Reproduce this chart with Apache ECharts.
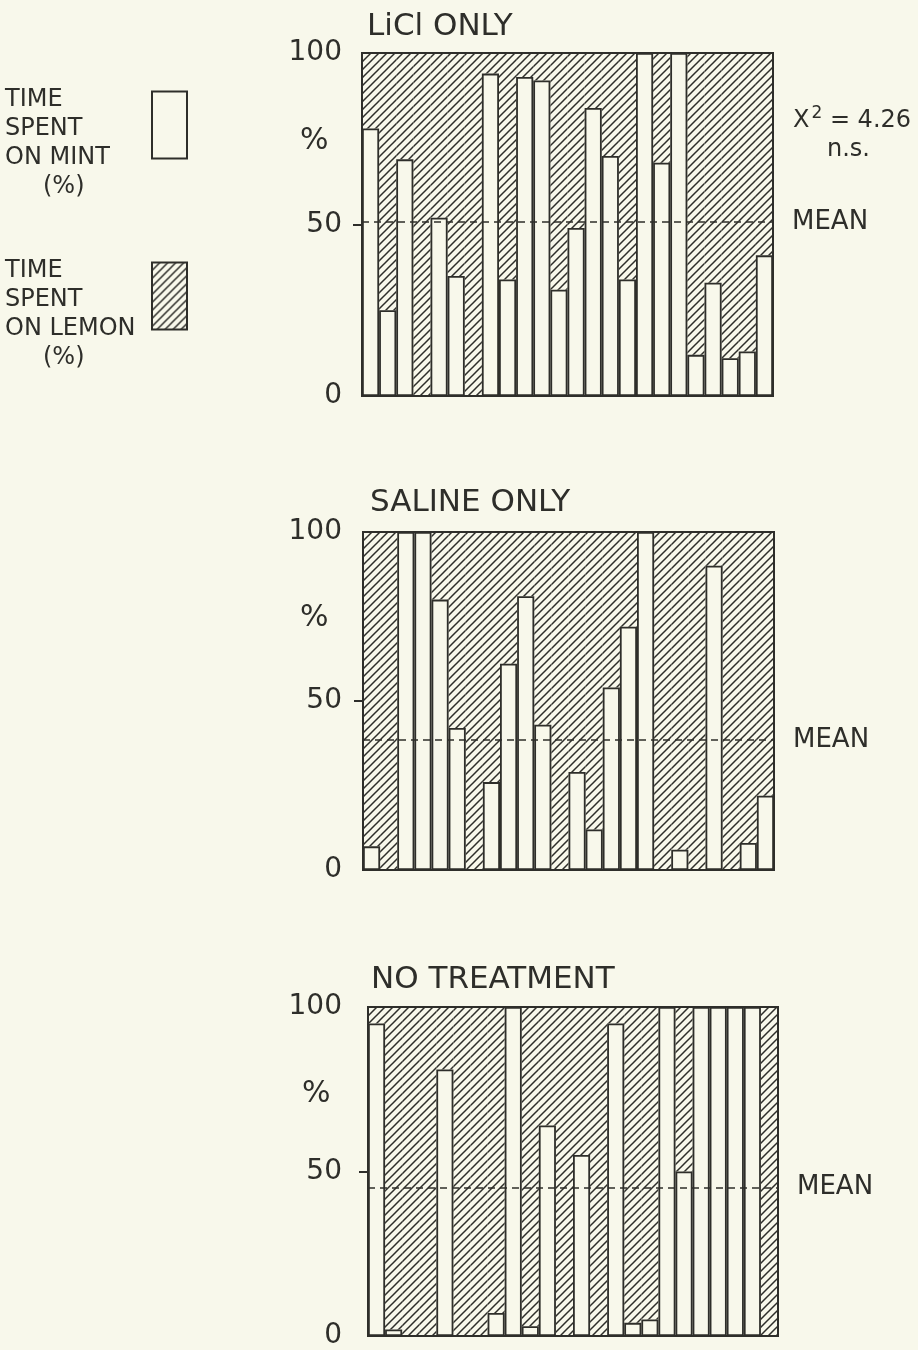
<!DOCTYPE html>
<html>
<head>
<meta charset="utf-8">
<script src="https://cdn.jsdelivr.net/npm/echarts@6/dist/echarts.min.js"></script>
<style>
html, body { margin: 0; padding: 0; background: #f8f8eb; }
#chart { width: 918px; height: 1350px; }
</style>
</head>
<body>
<div id="chart"></div>
<script>
// bar index (one bar per animal)
var animals = [];
for (var i = 1; i <= 24; i++) animals.push(String(i));

// time spent on mint, %, per animal (rest of each bar = lemon)
var mintLiCl   = [78, 25, 69, 0, 52, 35, 0, 94, 34, 93, 92, 31, 49, 84, 70, 34, 100, 68, 100, 12, 33, 11, 13, 41];
var mintSaline = [7, 0, 100, 100, 80, 42, 0, 26, 61, 81, 43, 0, 29, 12, 54, 72, 100, 0, 6, 0, 90, 0, 8, 22];
var mintNone   = [95, 2, 0, 0, 81, 0, 0, 7, 100, 3, 64, 0, 55, 0, 95, 4, 5, 100, 50, 100, 100, 100, 100, 0];

var panelTitles = ['LiCl ONLY', 'SALINE ONLY', 'NO TREATMENT'];
var panelMeans  = [50.8, 38.4, 45.2];
var yTicks      = [0, 50, 100];

var INK = '#2e2e2a';
var PAPER = '#f8f8eb';
var FONT = 'DejaVu Sans';
var MINT = 'TIME\nSPENT\nON MINT\n(%)';
var LEMON = 'TIME\nSPENT\nON LEMON\n(%)';

// diagonal hatch for the lemon part
function hatch() {
	var s = 8;
	var c = document.createElement('canvas');
	c.width = s; c.height = s;
	var ctx = c.getContext('2d');
	ctx.fillStyle = PAPER;
	ctx.fillRect(0, 0, s, s);
	ctx.strokeStyle = INK;
	ctx.lineWidth = 1.5;
	ctx.beginPath();
	ctx.moveTo(-1, s + 1); ctx.lineTo(s + 1, -1);
	ctx.moveTo(-1, 1); ctx.lineTo(1, -1);
	ctx.moveTo(s - 1, s + 1); ctx.lineTo(s + 1, s - 1);
	ctx.stroke();
	return { image: c, repeat: 'repeat' };
}
var hatchFill = hatch();

var grids = [
	{ left: 362, top: 53, width: 411, height: 343, margin: 20 },
	{ left: 363, top: 532, width: 411, height: 338, margin: 21 },
	{ left: 368, top: 1007, width: 410, height: 334, margin: 26 }
];
var mintData = [mintLiCl, mintSaline, mintNone];

var option = {
	backgroundColor: PAPER,
	animation: false,
	textStyle: { fontFamily: FONT, color: INK },
	title: [
		{ text: panelTitles[0], left: 362, top: 6 },
		{ text: panelTitles[1], left: 365, top: 482 },
		{ text: panelTitles[2], left: 366, top: 959 }
	].map(function (t) {
		t.textStyle = { fontFamily: FONT, fontSize: 31, fontWeight: 'normal', color: INK };
		return t;
	}),
	legend: {
		left: 0,
		top: 44,
		orient: 'vertical',
		align: 'right',
		itemWidth: 35,
		itemHeight: 67,
		itemGap: 19,
		selectedMode: false,
		icon: 'rect',
		data: [
			{ name: MINT, itemStyle: { color: PAPER, borderColor: INK, borderWidth: 2 } },
			{ name: LEMON, itemStyle: { color: hatchFill, borderColor: INK, borderWidth: 2 } }
		],
		formatter: function (name) {
			var l = name.split('\n');
			return '{t|' + l[0] + '}\n{t|' + l[1] + '}\n{t|' + l[2] + '}\n{c|' + l[3] + '}';
		},
		textStyle: {
			fontFamily: FONT, fontSize: 24, color: INK, lineHeight: 29,
			padding: [36, 0, 0, 0],
			rich: {
				t: { width: 142, align: 'left', fontSize: 24, lineHeight: 29, fontFamily: FONT, color: INK },
				c: { width: 104, align: 'left', padding: [0, 0, 0, 38], fontSize: 24, lineHeight: 29, fontFamily: FONT, color: INK }
			}
		}
	},
	grid: grids.map(function (g) {
		return { left: g.left, top: g.top, width: g.width, height: g.height, show: true, z: 10,
			backgroundColor: 'transparent', borderColor: INK, borderWidth: 2 };
	}),
	xAxis: grids.map(function (g, k) {
		return { type: 'category', gridIndex: k, data: animals,
			axisLine: { show: false }, axisTick: { show: false }, axisLabel: { show: false } };
	}),
	yAxis: grids.map(function (g, k) {
		return { type: 'value', gridIndex: k, min: 0, max: 100, interval: 50,
			axisLine: { show: false },
			splitLine: { show: false },
			axisTick: { show: true, customValues: [50], length: 9, lineStyle: { color: INK, width: 2 } },
			axisLabel: { customValues: yTicks, fontFamily: FONT, fontSize: 28, color: INK, margin: g.margin } };
	}),
	series: [],
	graphic: [
		{ type: 'text', left: 300, top: 126, style: { text: '%', font: '30px ' + FONT, fill: INK } },
		{ type: 'text', left: 300, top: 603, style: { text: '%', font: '30px ' + FONT, fill: INK } },
		{ type: 'text', left: 302, top: 1079, style: { text: '%', font: '30px ' + FONT, fill: INK } },
		{ type: 'text', left: 793, top: 105, style: {
			text: '{a|X}{s|2}{a| = 4.26}',
			fill: INK,
			rich: {
				a: { fontFamily: FONT, fontSize: 24, color: INK, fill: INK },
				s: { fontFamily: FONT, fontSize: 17, color: INK, fill: INK, verticalAlign: 'top', padding: [0, 0, 14, 2] }
			} } },
		{ type: 'text', left: 827, top: 138, style: { text: 'n.s.', font: '24px ' + FONT, fill: INK } }
	]
};

mintData.forEach(function (mint, k) {
	option.series.push({
		name: MINT,
		type: 'bar',
		xAxisIndex: k, yAxisIndex: k,
		stack: 'p' + k,
		z: 3,
		barCategoryGap: '0%',
		data: mint,
		itemStyle: { color: PAPER, borderColor: INK, borderWidth: 1.8 },
		markLine: {
			silent: true,
			symbol: 'none',
			lineStyle: { color: INK, type: [7, 5], width: 1.5 },
			label: { show: true, position: 'end', distance: 19, formatter: 'MEAN',
				fontFamily: FONT, fontSize: 26, color: INK },
			data: [{ yAxis: panelMeans[k] }]
		}
	});
	option.series.push({
		name: LEMON,
		type: 'bar',
		xAxisIndex: k, yAxisIndex: k,
		stack: 'p' + k,
		z: 2,
		barCategoryGap: '0%',
		data: mint.map(function (v) { return 100 - v; }),
		itemStyle: { color: hatchFill, borderWidth: 0 }
	});
});

var chart = echarts.init(document.getElementById('chart'));
chart.setOption(option);
</script>
</body>
</html>
